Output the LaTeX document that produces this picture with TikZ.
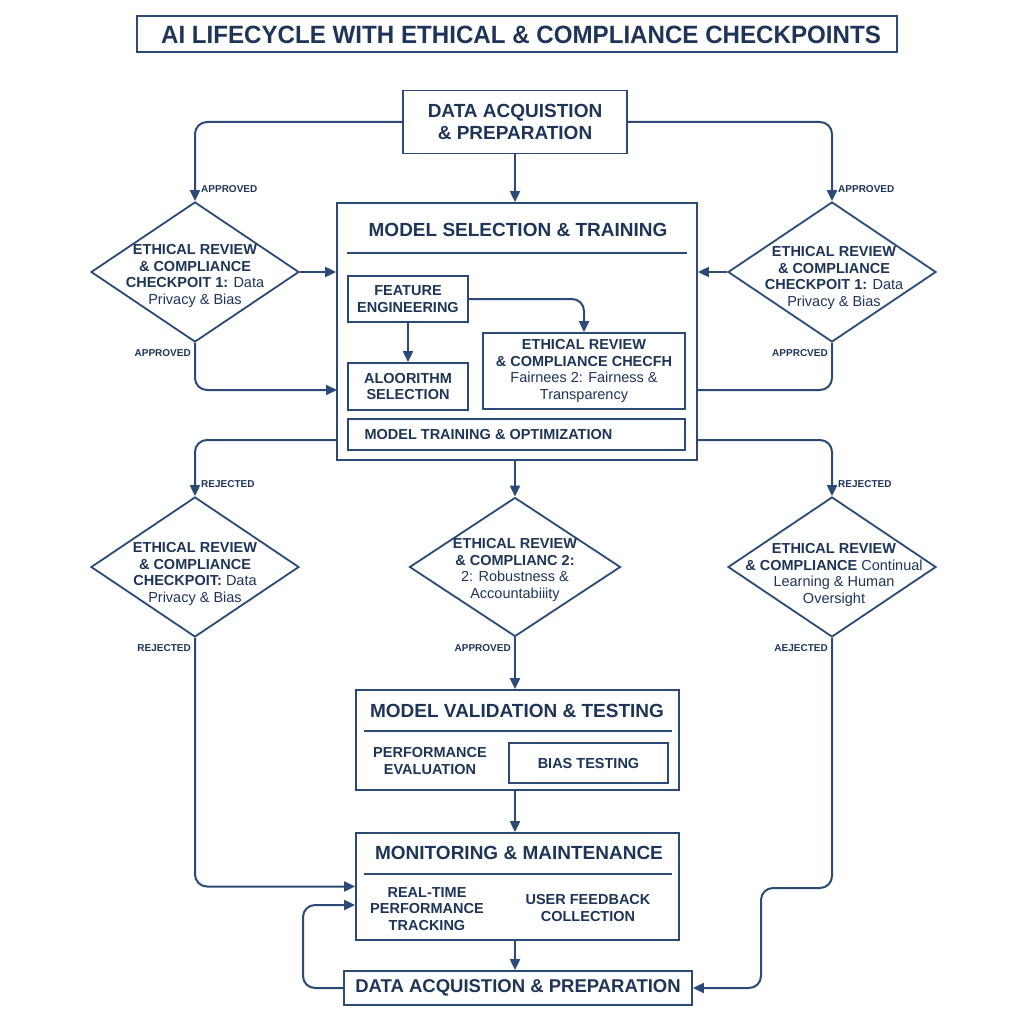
\documentclass[tikz,border=0pt]{standalone}
\usepackage{fontspec}
\setmainfont{Liberation Sans}
\usetikzlibrary{arrows.meta,shapes.geometric}
\definecolor{navy}{HTML}{2B4A78}
\definecolor{ink}{HTML}{1F3558}
\newcommand{\fs}[1]{\fontsize{#1}{\fpeval{#1*1.16}}\selectfont}
\tikzset{
  every node/.style={text=ink},
  box/.style={draw=navy, line width=1.8pt, fill=white, inner sep=0pt},
  dia/.style={draw=navy, line width=1.8pt, shape=diamond, inner sep=0pt, minimum width=208pt, minimum height=140pt, fill=white},
  conn/.style={draw=navy, line width=2pt, rounded corners=12pt},
  arr/.style={conn, -{Triangle[length=11pt,width=10pt]}},
  lbl/.style={font=\fs{10}\bfseries, inner sep=1pt},
  hd/.style={font=\fs{19}\bfseries, align=center},
  sm/.style={font=\fs{14.5}\bfseries, align=center},
  dtxt/.style={font=\fs{14.5}, align=center},
  sep/.style={draw=navy, line width=1.4pt}
}
\begin{document}
\begin{tikzpicture}[x=1pt,y=-1pt]
\useasboundingbox (0,0) rectangle (1024,1024);
% title
\node[box, minimum width=760pt, minimum height=36pt] (title) at (517,34) {};
\node[font=\fs{25}\bfseries] (titletxt) at (521,35) {\scalebox{0.965}[1]{AI LIFECYCLE WITH ETHICAL \& COMPLIANCE CHECKPOINTS}};
% top box
\node[box, minimum width=224pt, minimum height=63pt, align=center, font=\fs{19}\bfseries] (top) at (515,122) {DATA ACQUISTION\\\& PREPARATION};
% model selection
\node[box, minimum width=360pt, minimum height=257pt] (msel) at (517,331.5) {};
\node[hd] (mseltitle) at (518,230) {MODEL SELECTION \& TRAINING};
\draw[sep] (347,253) -- (687,253);
\node[box, minimum width=120pt, minimum height=46pt, sm] (fe) at (408,299) {FEATURE\\ENGINEERING};
\node[box, minimum width=120pt, minimum height=47pt, sm] (alg) at (408,386.5) {ALOORITHM\\SELECTION};
\node[box, minimum width=202pt, minimum height=76pt, dtxt] (eth) at (584,371) {\textbf{ETHICAL REVIEW}\\\textbf{\& COMPLIANCE CHECFH}\\Fairnees 2: Fairness \&\\Transparency};
\node[box, minimum width=337pt, minimum height=31pt] (train) at (516.5,434.5) {};
\node[sm, anchor=west] (traintxt) at (361,435) {MODEL TRAINING \& OPTIMIZATION};
\draw[arr] (fe.south) -- (alg.north);
\draw[arr] (fe.east) -| (eth.north);
% diamonds row 1
\node[dia] (d1) at (195,272) {};
\node[dtxt] (d1t) at (195,276) {\textbf{ETHICAL REVIEW}\\\textbf{\& COMPLIANCE}\\\textbf{CHECKPOIT 1:} Data\\Privacy \& Bias};
\node[dia] (d2) at (832,272) {};
\node[dtxt] (d2t) at (834,278) {\textbf{ETHICAL REVIEW}\\\textbf{\& COMPLIANCE}\\\textbf{CHECKPOIT 1:} Data\\Privacy \& Bias};
% diamonds row 2
\node[dia] (d3) at (195,567) {};
\node[dtxt] (d3t) at (195,574) {\textbf{ETHICAL REVIEW}\\\textbf{\& COMPLIANCE}\\\textbf{CHECKPOIT:} Data\\Privacy \& Bias};
\node[dia, minimum width=211pt, minimum height=139pt] (d4) at (515,567) {};
\node[dtxt] (d4t) at (515,570) {\textbf{ETHICAL REVIEW}\\\textbf{\& COMPLIANC 2:}\\2: Robustness \&\\Accountabiiity};
\node[dia] (d5) at (832,567) {};
\node[dtxt] (d5t) at (834,575) {\textbf{ETHICAL REVIEW}\\\textbf{\& COMPLIANCE} Continual\\Learning \& Human\\Oversight};
% validation
\node[box, minimum width=323pt, minimum height=100pt] (val) at (517.5,740) {};
\node[hd] (valtitle) at (517,711) {MODEL VALIDATION \& TESTING};
\draw[sep] (364,731) -- (672,731);
\node[sm] (perf) at (430,761) {PERFORMANCE\\EVALUATION};
\node[box, minimum width=159pt, minimum height=40pt, sm, line width=1.6pt] (bias) at (588.5,763) {BIAS TESTING};
% monitoring
\node[box, minimum width=323pt, minimum height=107pt] (mon) at (517.5,886.5) {};
\node[hd] (montitle) at (519,853) {MONITORING \& MAINTENANCE};
\draw[sep] (364,874) -- (672,874);
\node[sm] (rt) at (427,909) {REAL-TIME\\PERFORMANCE\\TRACKING};
\node[sm] (uf) at (588,908) {USER FEEDBACK\\COLLECTION};
% bottom
\node[box, minimum width=348pt, minimum height=34pt, hd, font=\fs{18.5}\bfseries] (bot) at (518,988) {DATA ACQUISTION \& PREPARATION};
% connectors
\coordinate (l1) at (337,390);
\coordinate (r1) at (697,390);
\coordinate (ml) at (337,440);
\coordinate (mr) at (697,440);
\coordinate (lp) at (303,905);
\coordinate (rj) at (761,888);
\draw[arr] (top.south) -- (top.south |- msel.north);
\draw[arr] (top.west) -| (d1.north);
\draw[arr] (top.east) -| (d2.north);
\draw[arr] (d1.east) -- (d1.east -| msel.west);
\draw[arr] (d2.west) -- (d2.west -| msel.east);
\draw[arr] (d1.south) |- (l1);
\draw[conn] (d2.south) |- (r1);
\draw[arr] (ml) -| (d3.north);
\draw[arr] (mr) -| (d5.north);
\draw[arr] (d4.north |- msel.south) -- (d4.north);
\draw[arr] (d4.south) -- (d4.south |- val.north);
\draw[arr] (d4.south |- val.south) -- (d4.south |- mon.north);
\draw[arr] (d4.south |- mon.south) -- (d4.south |- bot.north);
\draw[arr] (d3.south) |- (mon.west);
\draw[arr] (bot.west) -| (lp) -- (lp -| mon.west);
\draw[arr] (d5.south) |- (rj) |- (bot.east);
% labels
\node[lbl, anchor=west] (a1) at (200,189) {APPROVED};
\node[lbl, anchor=west] (a2) at (837,189) {APPROVED};
\node[lbl, anchor=east] (a3) at (192,353) {APPROVED};
\node[lbl, anchor=east] (a4) at (829,353) {APPRCVED};
\node[lbl, anchor=west] (r1l) at (200,484) {REJECTED};
\node[lbl, anchor=west] (r2l) at (837,484) {REJECTED};
\node[lbl, anchor=east] (r3l) at (192,648) {REJECTED};
\node[lbl, anchor=east] (a5) at (512,648) {APPROVED};
\node[lbl, anchor=east] (r4l) at (829,648) {AEJECTED};
\end{tikzpicture}
\end{document}
